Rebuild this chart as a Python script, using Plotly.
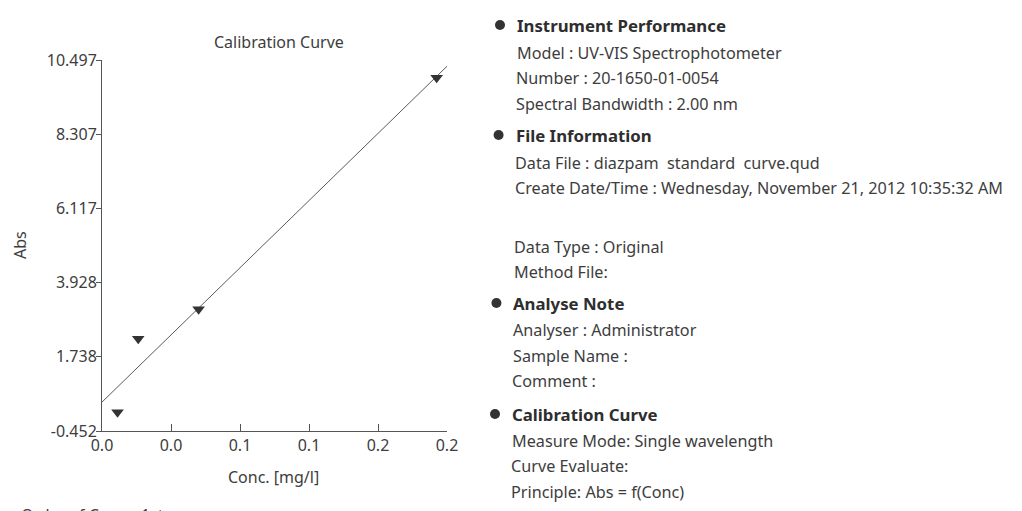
import numpy as np
import plotly.graph_objects as go

# ---- data ----
conc = [0.009, 0.021, 0.056, 0.194]          # mg/l
absorbance = [0.10, 2.27, 3.14, 9.97]        # Abs
x_tick_vals = [0.0, 0.04, 0.08, 0.12, 0.16, 0.2]
x_tick_text = ["0.0", "0.0", "0.1", "0.1", "0.2", "0.2"]
y_tick_vals = [-0.452, 1.738, 3.928, 6.117, 8.307, 10.497]
y_tick_text = ["-0.452", "1.738", "3.928", "6.117", "8.307", "10.497"]
fit_x = [0.0, 0.2]

info_lines = [
    ("Instrument Performance", True),
    ("Model : UV-VIS Spectrophotometer", False),
    ("Number : 20-1650-01-0054", False),
    ("Spectral Bandwidth : 2.00 nm", False),
    ("File Information", True),
    ("Data File : diazpam  standard  curve.qud", False),
    ("Create Date/Time : Wednesday, November 21, 2012 10:35:32 AM", False),
    ("Data Type : Original", False),
    ("Method File:", False),
    ("Analyse Note", True),
    ("Analyser : Administrator", False),
    ("Sample Name :", False),
    ("Comment :", False),
    ("Calibration Curve", True),
    ("Measure Mode: Single wavelength", False),
    ("Curve Evaluate:", False),
    ("Principle: Abs = f(Conc)", False),
]
info_y_px = [25, 53, 78, 104, 135, 163, 188, 247, 272, 303, 330, 356, 381, 414, 441, 466, 492]

# ---- linear fit (1st order) ----
slope, intercept = np.polyfit(conc, absorbance, 1)
fit_y = [intercept + slope * v for v in fit_x]

W, H = 1022, 511
L, R, T, B = 102, 447, 60, 431


def px(x):
    return (x - L) / (R - L)


def py(y):
    return (B - y) / (B - T)


FONT = "Noto Sans"
TXT = "#3d3d3d"

fig = go.Figure()
fig.add_trace(go.Scatter(x=fit_x, y=fit_y, mode="lines",
                         line=dict(color="#5a5a5a", width=1), hoverinfo="skip"))
fig.add_trace(go.Scatter(x=conc, y=absorbance, mode="markers",
                         marker=dict(symbol="triangle-down", size=11, color="#333333"),
                         cliponaxis=False))

annotations = [
    dict(text="Calibration Curve", x=px(279), y=py(42), xref="paper", yref="paper",
         showarrow=False, xanchor="center", yanchor="middle",
         font=dict(family=FONT, size=16, color=TXT)),
    dict(text="Abs", x=px(20), y=py(245), xref="paper", yref="paper", textangle=-90,
         showarrow=False, xanchor="center", yanchor="middle",
         font=dict(family=FONT, size=16, color=TXT)),
    dict(text="Conc. [mg/l]", x=px(273), y=py(477), xref="paper", yref="paper",
         showarrow=False, xanchor="center", yanchor="middle",
         font=dict(family=FONT, size=16, color=TXT)),
    dict(text="Order of Curve: 1st", x=px(19), y=py(502), xref="paper", yref="paper",
         showarrow=False, xanchor="left", yanchor="top",
         font=dict(family=FONT, size=16, color=TXT)),
]

shapes = []
for (txt, bold), ypx in zip(info_lines, info_y_px):
    skew = (ypx - 25) * 6.0 / 467.0
    xt = 515 - skew
    annotations.append(dict(
        text=f"<b>{txt}</b>" if bold else txt,
        x=px(xt), y=py(ypx), xref="paper", yref="paper",
        showarrow=False, xanchor="left", yanchor="middle",
        font=dict(family=FONT, size=16.8 if bold else 16.2,
                  color="#2e2e2e" if bold else TXT)))
    if bold:
        cx = 500 - skew
        shapes.append(dict(type="circle", xref="paper", yref="paper",
                           x0=px(cx - 5), x1=px(cx + 5), y0=py(ypx + 5), y1=py(ypx - 5),
                           fillcolor="#333333", line=dict(width=0)))

fig.update_layout(
    width=W, height=H,
    margin=dict(l=L, r=W - R, t=T, b=H - B, autoexpand=False),
    paper_bgcolor="white", plot_bgcolor="white",
    showlegend=False,
    annotations=annotations,
    shapes=shapes,
    xaxis=dict(range=[0, 0.2], tickmode="array", tickvals=x_tick_vals, ticktext=x_tick_text,
               ticks="inside", ticklen=7, tickcolor="#555555", showgrid=False, zeroline=False,
               showline=True, linecolor="#555555", linewidth=1,
               tickfont=dict(family=FONT, size=16, color=TXT)),
    yaxis=dict(range=[-0.452, 10.497], tickmode="array", tickvals=y_tick_vals, ticktext=y_tick_text,
               ticks="outside", ticklen=5, tickcolor="#555555", showgrid=False, zeroline=False,
               showline=True, linecolor="#555555", linewidth=1, ticklabelstandoff=-4,
               tickfont=dict(family=FONT, size=16, color=TXT)),
)

fig.write_html("out.html", config={"displayModeBar": False},
               post_script="document.body.style.margin='0';document.body.style.overflow='hidden';")
